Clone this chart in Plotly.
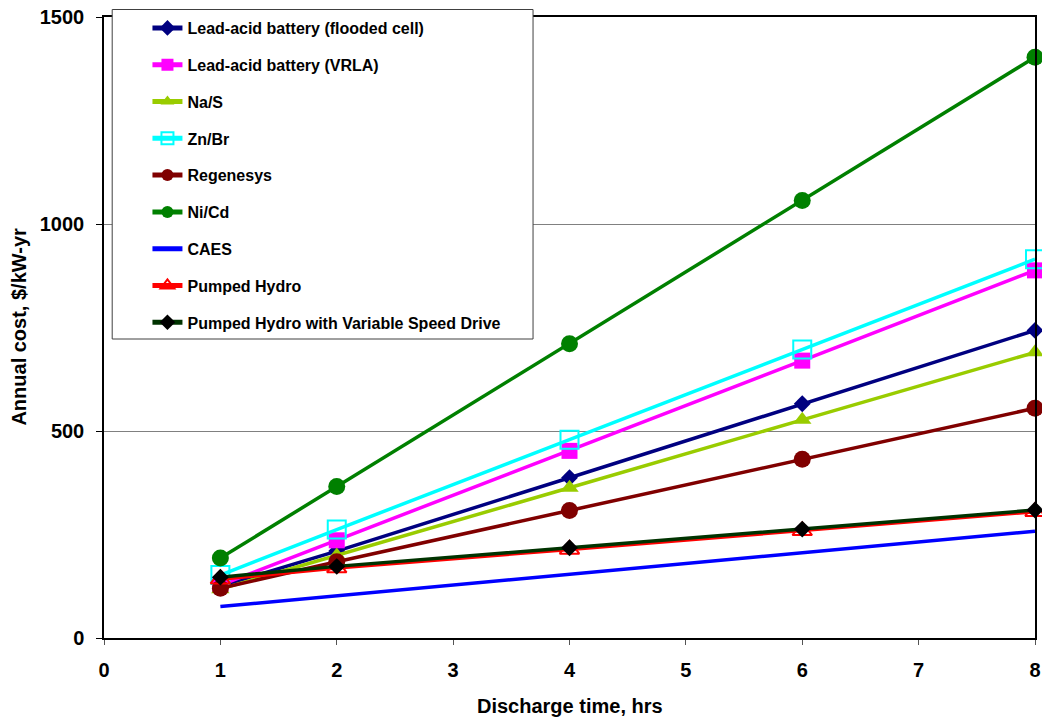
import plotly.graph_objects as go

x_hours = [1, 2, 4, 6, 8]

series_names = [
    "Lead-acid battery (flooded cell)",
    "Lead-acid battery (VRLA)",
    "Na/S",
    "Zn/Br",
    "Regenesys",
    "Ni/Cd",
    "CAES",
    "Pumped Hydro",
    "Pumped Hydro with Variable Speed Drive",
]

lead_flooded = [125, 210, 387, 566, 743]
lead_vrla = [128, 236, 452, 670, 888]
na_s = [118, 199, 363, 527, 690]
zn_br = [152, 262, 479, 697, 915]
regenesys = [120, 184, 308, 432, 555]
ni_cd = [193, 366, 711, 1057, 1403]
caes = [76, 102, 155, 207, 258]
pumped_hydro = [142, 169, 214, 259, 305]
pumped_hydro_vsd = [147, 173, 218, 263, 309]

values = [lead_flooded, lead_vrla, na_s, zn_br, regenesys, ni_cd, caes,
          pumped_hydro, pumped_hydro_vsd]

styles = [
    dict(line="#000080", symbol="diamond", size=13, mcolor="#000080", open=False),
    dict(line="#FF00FF", symbol="square", size=16, mcolor="#FF00FF", open=False),
    dict(line="#99CC00", symbol="triangle-up", size=16, mcolor="#99CC00", open=False),
    dict(line="#00FFFF", symbol="square-open", size=18, mcolor="#00FFFF", open=True),
    dict(line="#800000", symbol="circle", size=17, mcolor="#800000", open=False),
    dict(line="#008000", symbol="circle", size=17, mcolor="#008000", open=False),
    dict(line="#0000FF", symbol=None, size=0, mcolor="#0000FF", open=False),
    dict(line="#FF0000", symbol="triangle-up-open", size=17, mcolor="#FF0000", open=True),
    dict(line="#003300", symbol="diamond", size=13, mcolor="#000000", open=False),
]

FONT = "Arial, 'Liberation Sans', sans-serif"

fig = go.Figure()
for i, (name, vals, st) in enumerate(zip(series_names, values, styles)):
    if st["symbol"] is None:
        mode = "lines"
        marker = None
    else:
        mode = "lines+markers"
        if st["open"]:
            marker = dict(symbol=st["symbol"], size=st["size"], color=st["mcolor"],
                          line=dict(color=st["mcolor"], width=2))
        else:
            marker = dict(symbol=st["symbol"], size=st["size"], color=st["mcolor"],
                          line=dict(width=0))
    fig.add_trace(go.Scatter(
        x=x_hours, y=vals, name=name, mode=mode,
        line=dict(color=st["line"], width=3.5),
        marker=marker, legendgroup=f"g{i}", cliponaxis=False,
    ))

# target pixel geometry of the plot area in the window
L, R, T, B = 103.5, 1035.5, 17, 638
W, H = 1042, 721
pw, ph = R - L, B - T

def px_to_paper_x(px):
    return (px - L) / pw

def px_to_paper_y(py):
    return (B - py) / ph

# legend box
fig.add_shape(type="rect", xref="paper", yref="paper",
              x0=px_to_paper_x(111.7), x1=px_to_paper_x(533),
              y0=px_to_paper_y(339), y1=px_to_paper_y(9.5),
              line=dict(color="#404040", width=1), fillcolor="white", layer="above")

# axis titles as annotations for exact placement
fig.add_annotation(text="<b>Discharge time, hrs</b>", xref="paper", yref="paper",
                   x=px_to_paper_x(570), y=px_to_paper_y(706), xanchor="center", yanchor="middle",
                   showarrow=False, font=dict(family=FONT, size=20, color="black"))
fig.add_annotation(text="<b>Annual cost, $/kW-yr</b>", xref="paper", yref="paper",
                   x=px_to_paper_x(18), y=px_to_paper_y(327), xanchor="center", yanchor="middle",
                   textangle=-90, showarrow=False, font=dict(family=FONT, size=20, color="black"))

fig.update_layout(
    width=W, height=H,
    margin=dict(l=L, r=W - R, t=T, b=H - B, autoexpand=False),
    paper_bgcolor="white", plot_bgcolor="white",
    font=dict(family=FONT, color="black"),
    showlegend=True,
    legend=dict(
        x=px_to_paper_x(147), y=px_to_paper_y(11), xanchor="left", yanchor="top",
        bgcolor="rgba(0,0,0,0)", borderwidth=0,
        font=dict(family=FONT, size=16, color="black", weight="bold"),
        tracegroupgap=13, traceorder="grouped", itemsizing="constant",
    ),
    xaxis=dict(
        range=[0, 8], dtick=1, tick0=0, automargin=False,
        showgrid=False, zeroline=False,
        showline=True, linecolor="black", linewidth=1.5, mirror=True,
        ticks="outside", ticklen=5, tickcolor="#555555", tickwidth=1,
        tickfont=dict(family=FONT, size=20, color="black", weight="bold"),
        ticklabelstandoff=8, ticklabeloverflow="allow",
    ),
    yaxis=dict(
        range=[0, 1500], dtick=500, tick0=0, automargin=False,
        showgrid=True, gridcolor="#808080", gridwidth=1, zeroline=False,
        showline=True, linecolor="black", linewidth=1.5, mirror=True,
        ticks="outside", ticklen=6, tickcolor="black", tickwidth=1,
        tickfont=dict(family=FONT, size=20, color="black", weight="bold"),
        ticklabelstandoff=8, ticklabeloverflow="allow",
    ),
)

# remove the browser's default page margin so the figure fills the window exactly
fig.write_html("out.html",
               config={"displayModeBar": False},
               post_script="document.body.style.margin='0';document.body.style.overflow='hidden';")
